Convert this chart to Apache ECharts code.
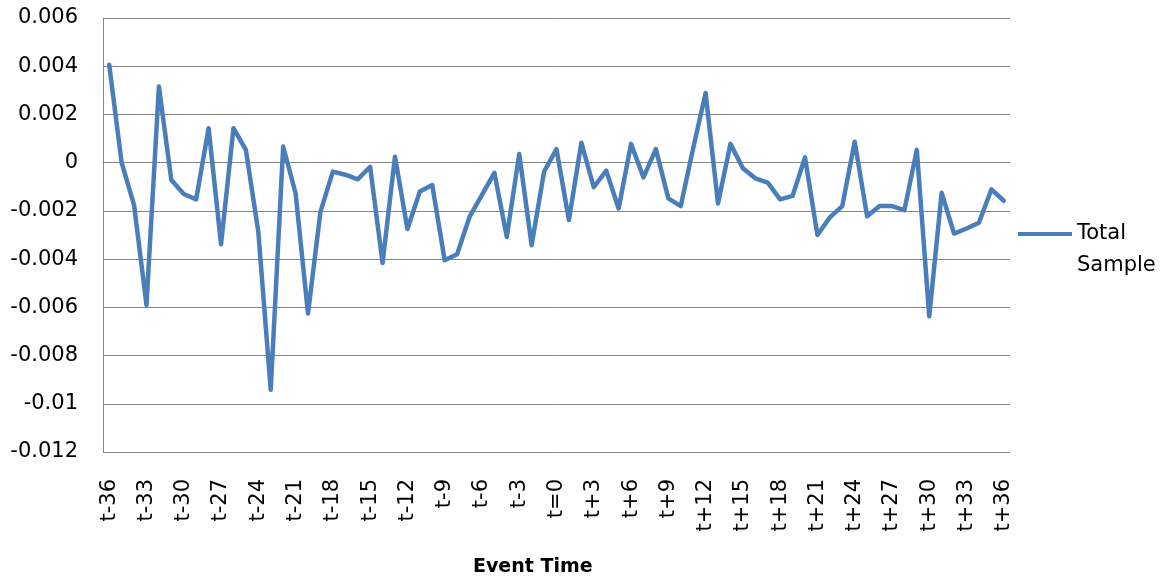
<!DOCTYPE html>
<html>
<head>
<meta charset="utf-8">
<script src="https://cdn.jsdelivr.net/npm/echarts@6/dist/echarts.min.js"></script>
<style>
  html, body { margin: 0; padding: 0; background: #fff; }
  #chart { width: 1173px; height: 583px; }
</style>
</head>
<body>
<div id="chart"></div>
<script>
// event window t-36 .. t+36
let eventDays = [];
for (let d = -36; d <= 36; d++) {
    eventDays.push(d === 0 ? 't=0' : (d < 0 ? 't' + d : 't+' + d));
}

let totalSample = [
    0.00406, 0.00000, -0.00176, -0.00590, 0.00316, -0.00072, -0.00130, -0.00152, 0.00143, -0.00338,
    0.00143, 0.00053, -0.00287, -0.00942, 0.00067, -0.00127, -0.00626, -0.00204, -0.00037, -0.00050,
    -0.00069, -0.00017, -0.00416, 0.00025, -0.00275, -0.00120, -0.00093, -0.00405, -0.00380, -0.00225,
    -0.00134, -0.00042, -0.00308, 0.00036, -0.00342, -0.00037, 0.00056, -0.00238, 0.00083, -0.00102,
    -0.00033, -0.00190, 0.00078, -0.00061, 0.00056, -0.00148, -0.00180, 0.00060, 0.00289, -0.00169,
    0.00078, -0.00023, -0.00065, -0.00083, -0.00152, -0.00138, 0.00022, -0.00300, -0.00227, -0.00180,
    0.00087, -0.00222, -0.00180, -0.00180, -0.00197, 0.00053, -0.00637, -0.00125, -0.00294, -0.00273,
    -0.00249, -0.00111, -0.00158
];

let yMin = -0.012;
let yMax = 0.006;
let yStep = 0.002;

let fontName = 'DejaVu Sans';
let chart = echarts.init(document.getElementById('chart'));

let option = {
    animation: false,
    grid: {
        left: 103,
        right: 163,
        top: 18,
        bottom: 131
    },
    legend: {
        data: ['Total Sample'],
        left: 1018,
        top: 186,
        padding: 0,
        itemWidth: 54,
        itemHeight: 4,
        itemGap: 5,
        icon: 'rect',
        // blank first line so the icon lines up with "Total"
        formatter: function (name) {
            return '{h|.}\n' + name.replace(' ', '\n');
        },
        textStyle: {
            fontFamily: fontName,
            fontSize: 21,
            color: '#000',
            lineHeight: 32,
            rich: {
                h: { color: 'transparent', fontSize: 21, lineHeight: 32 }
            }
        }
    },
    graphic: [{
        type: 'text',
        left: 473,
        top: 558,
        style: {
            text: 'Event Time',
            fontFamily: fontName,
            fontSize: 19,
            fontWeight: 'bold',
            fill: '#000'
        }
    }],
    xAxis: {
        type: 'category',
        data: eventDays,
        boundaryGap: true,
        axisLine: { show: true, lineStyle: { color: '#868686', width: 1 } },
        axisTick: { show: false },
        axisLabel: {
            interval: 2,
            rotate: 90,
            margin: 27,
            fontFamily: fontName,
            fontSize: 21,
            color: '#000'
        },
        splitLine: { show: false }
    },
    yAxis: {
        type: 'value',
        min: yMin,
        max: yMax,
        interval: yStep,
        axisLine: { show: true, lineStyle: { color: '#868686', width: 1 } },
        axisTick: { show: false },
        axisLabel: {
            margin: 25,
            fontFamily: fontName,
            fontSize: 21,
            color: '#000',
            formatter: function (value) {
                return String(Math.round(value * 1000) / 1000);
            }
        },
        splitLine: { show: true, lineStyle: { color: '#868686', width: 1 } }
    },
    series: [{
        name: 'Total Sample',
        type: 'line',
        data: totalSample,
        symbol: 'none',
        smooth: false,
        itemStyle: { color: '#4A7EBB' },
        lineStyle: {
            color: '#4A7EBB',
            width: 4.5,
            cap: 'round',
            join: 'round'
        }
    }]
};

chart.setOption(option);
</script>
</body>
</html>
